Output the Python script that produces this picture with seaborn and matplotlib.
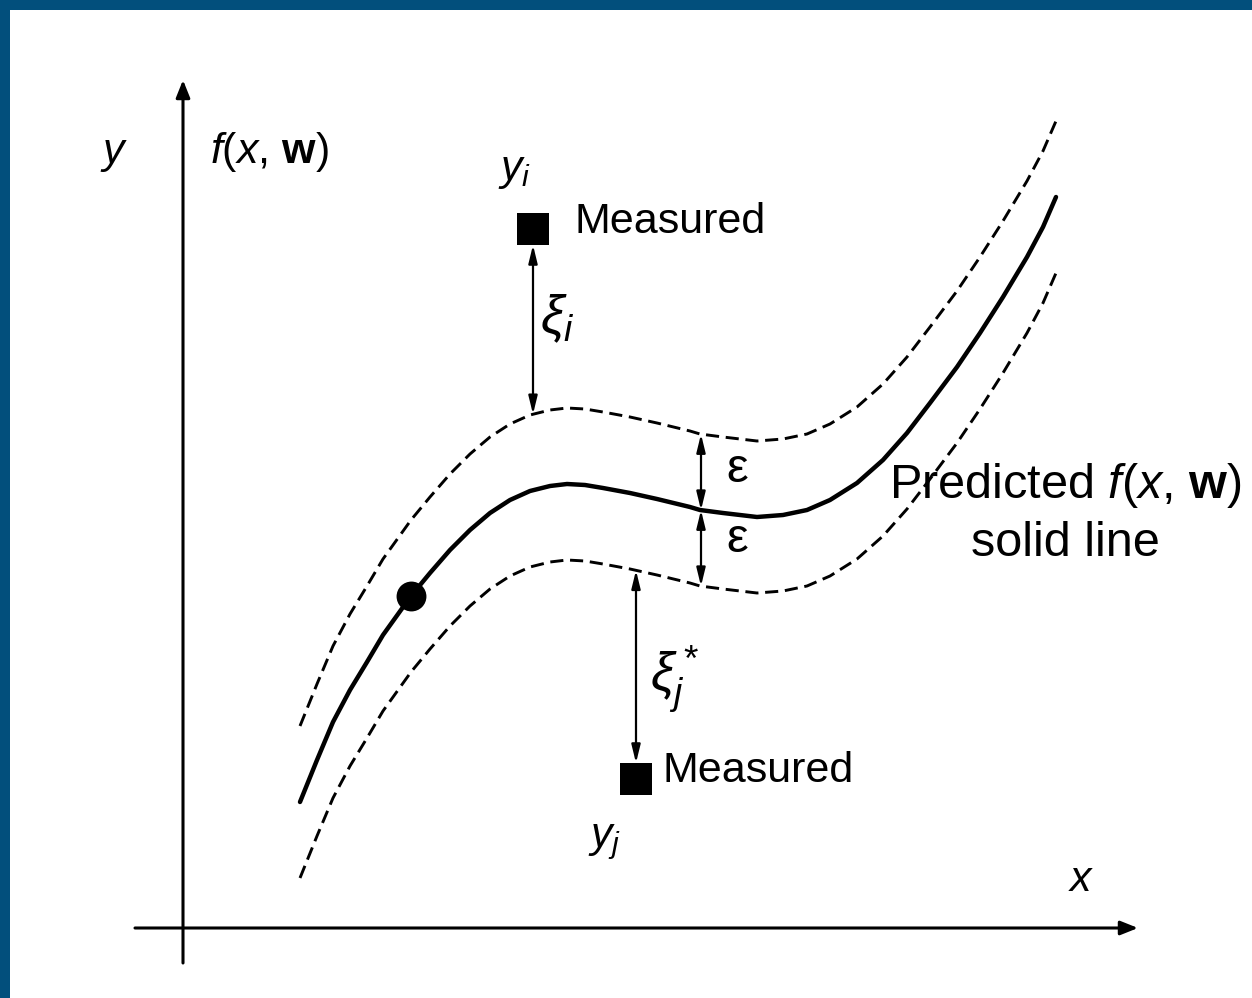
import numpy as np
import matplotlib
matplotlib.use("Agg")
import matplotlib.pyplot as plt
import seaborn as sns

# ---- data (pixel-like units) ----
curve_x = [300, 317, 333, 350, 367, 383, 411, 430, 450, 470, 490, 510, 530,
           550, 567, 585, 603, 630, 657, 690, 700, 723, 757, 783, 807, 830, 857,
           883, 907, 930, 957, 980, 1003, 1027, 1043, 1056]
curve_y = [802, 760, 722, 690, 662, 635, 596, 573, 550, 530, 513, 500, 491,
           486, 484, 485, 488, 493, 499, 507, 510, 513, 517, 515, 510, 500, 483,
           460, 433, 403, 367, 333, 297, 257, 227, 197]
epsilon = 76
measured_x = [533, 636]
measured_y = [229, 779]
point_x = [411]
point_y = [596]
eps_arrow_x = 701

sns.set_theme(style="white")
plt.rcParams["font.family"] = ["Liberation Sans", "DejaVu Sans"]
plt.rcParams["text.color"] = "black"
plt.rcParams["mathtext.fontset"] = "custom"
plt.rcParams["mathtext.rm"] = "Liberation Sans"
plt.rcParams["mathtext.it"] = "Liberation Sans:italic"
plt.rcParams["mathtext.bf"] = "Liberation Sans:bold"

fig = plt.figure(figsize=(12.52, 9.98), dpi=100, facecolor="#024f7c")
ax = fig.add_axes([10 / 1252, 0, 1242 / 1252, 988 / 998])
ax.set_facecolor("white")
ax.set_xlim(10, 1252)
ax.set_ylim(998, 10)
ax.set_xticks([])
ax.set_yticks([])
for sp in ax.spines.values():
    sp.set_visible(False)

cx = np.array(curve_x, dtype=float)
cy = np.array(curve_y, dtype=float)
upper = cy - epsilon
lower = cy + epsilon

dash = (0, (4.5, 2.3))
sns.lineplot(x=cx, y=cy, sort=False, estimator=None, color="black", lw=3.2,
             solid_joinstyle="round", solid_capstyle="round", ax=ax)
sns.lineplot(x=cx, y=upper, sort=False, estimator=None, color="black", lw=2.1,
             linestyle=dash, ax=ax)
sns.lineplot(x=cx, y=lower, sort=False, estimator=None, color="black", lw=2.1,
             linestyle=dash, ax=ax)

sns.scatterplot(x=measured_x, y=measured_y, marker="s", s=23 ** 2, color="black",
                linewidth=0, ax=ax, zorder=5)
sns.scatterplot(x=point_x, y=point_y, marker="o", s=21.5 ** 2, color="black",
                linewidth=0, ax=ax, zorder=5)

# ---- coordinate axes ----
axprops = dict(arrowstyle="-|>,head_length=0.75,head_width=0.3", mutation_scale=14,
               lw=2.2, color="black", shrinkA=0, shrinkB=0)
ax.annotate("", xy=(183, 80), xytext=(183, 963), arrowprops=axprops)
ax.annotate("", xy=(1138, 928), xytext=(135, 928), arrowprops=axprops)

# ---- double arrows ----
dprops = dict(arrowstyle="<|-|>,head_length=0.9,head_width=0.22", mutation_scale=12,
              lw=1.6, color="black", shrinkA=0, shrinkB=0)
up_i = np.interp(measured_x[0], cx, upper)
lo_j = np.interp(measured_x[1], cx, lower)
ax.annotate("", xy=(measured_x[0], measured_y[0] + 16),
            xytext=(measured_x[0], up_i), arrowprops=dprops)
ax.annotate("", xy=(measured_x[1], lo_j),
            xytext=(measured_x[1], measured_y[1] - 16), arrowprops=dprops)
mid = np.interp(eps_arrow_x, cx, cy)
ax.annotate("", xy=(eps_arrow_x, mid - epsilon), xytext=(eps_arrow_x, mid),
            arrowprops=dprops)
ax.annotate("", xy=(eps_arrow_x, mid), xytext=(eps_arrow_x, mid + epsilon),
            arrowprops=dprops)

# ---- text ----
ax.text(100, 163, r"$y$", fontsize=31, ha="left", va="baseline")
ax.text(210, 163, r"$f$($x$, $\mathbf{w}$)", fontsize=31, ha="left", va="baseline")
ax.text(1068, 891, r"$x$", fontsize=31, ha="left", va="baseline")
ax.text(498, 180, r"$y_i$", fontsize=31, ha="left", va="baseline")
ax.text(575, 233, "Measured", fontsize=31, ha="left", va="baseline")
ax.text(662, 782, "Measured", fontsize=31, ha="left", va="baseline")
ax.text(588, 847, r"$y_j$", fontsize=31, ha="left", va="baseline")
ax.text(540, 333, r"$\xi_i$", fontsize=38, ha="left", va="baseline")
ax.text(650, 692, r"$\xi_j^*$", fontsize=38, ha="left", va="baseline")
ax.text(726, 482, "ε", fontsize=35, ha="left", va="baseline")
ax.text(726, 552, "ε", fontsize=35, ha="left", va="baseline")
ax.text(1065, 498, r"Predicted $f$($x$, $\mathbf{w}$)", fontsize=35, ha="center",
        va="baseline")
ax.text(1065, 556, "solid line", fontsize=35, ha="center", va="baseline")

fig.savefig("out.png", dpi=100, facecolor=fig.get_facecolor())
